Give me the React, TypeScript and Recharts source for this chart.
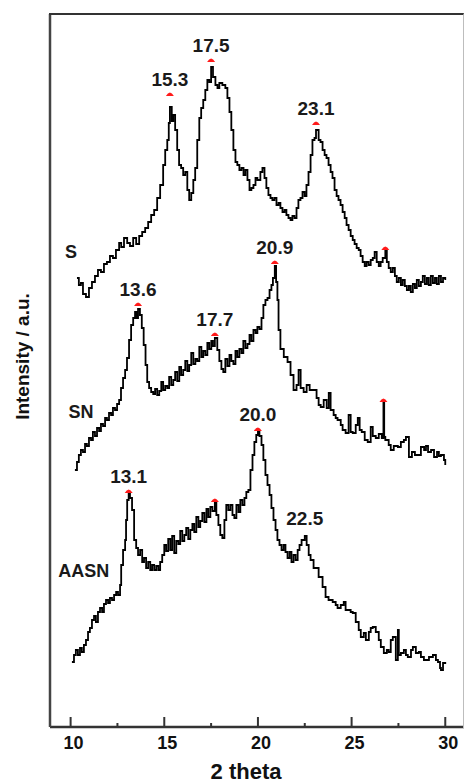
import React from "react";
import { ComposedChart, Line, XAxis, YAxis, ReferenceDot } from "recharts";

const FONT = "'Liberation Sans', Arial, Helvetica, sans-serif";

// XRD patterns, [2θ, intensity (a.u.)]
const sPattern = [
  [10.34, 449], [10.44, 442], [10.55, 444], [10.66, 433], [10.82, 430], [10.98, 439], [11.14, 445], [11.3, 451],
  [11.46, 457], [11.62, 455], [11.78, 463], [11.94, 465], [12.1, 471], [12.26, 469], [12.42, 477], [12.59, 484],
  [12.7, 480], [12.85, 489], [13.02, 484], [13.17, 481], [13.34, 489], [13.5, 483], [13.66, 491], [13.82, 495],
  [13.98, 499], [14.14, 505], [14.3, 512], [14.46, 517], [14.62, 529], [14.78, 542], [14.94, 562], [15.05, 577],
  [15.16, 587], [15.24, 604], [15.3, 620], [15.4, 606], [15.48, 612], [15.58, 597], [15.69, 577], [15.79, 562],
  [15.9, 559], [16.01, 552], [16.12, 555], [16.23, 537], [16.33, 527], [16.44, 534], [16.55, 547], [16.65, 559],
  [16.76, 587], [16.87, 609], [16.97, 619], [17.08, 627], [17.19, 637], [17.3, 647], [17.4, 645], [17.5, 660],
  [17.6, 650], [17.73, 642], [17.84, 639], [17.94, 644], [18.1, 642], [18.26, 639], [18.37, 629], [18.48, 615],
  [18.58, 597], [18.69, 577], [18.8, 565], [18.9, 562], [19.01, 557], [19.12, 559], [19.23, 552], [19.33, 557],
  [19.44, 547], [19.55, 537], [19.65, 539], [19.76, 542], [19.87, 549], [19.97, 547], [20.13, 555], [20.24, 559],
  [20.35, 549], [20.45, 539], [20.56, 532], [20.67, 529], [20.77, 527], [20.88, 529], [20.99, 522], [21.1, 524],
  [21.2, 519], [21.31, 515], [21.42, 517], [21.52, 512], [21.63, 509], [21.74, 507], [21.84, 511], [21.95, 509],
  [22.06, 519], [22.16, 527], [22.27, 529], [22.38, 535], [22.49, 531], [22.59, 542], [22.7, 555], [22.81, 572],
  [22.91, 587], [23.02, 589], [23.1, 597], [23.24, 587], [23.34, 585], [23.45, 577], [23.56, 572], [23.66, 569],
  [23.77, 562], [23.88, 555], [23.98, 549], [24.09, 537], [24.2, 531], [24.3, 527], [24.41, 522], [24.52, 515],
  [24.63, 509], [24.73, 502], [24.84, 497], [24.95, 491], [25.06, 487], [25.16, 483], [25.27, 479], [25.38, 477],
  [25.48, 471], [25.59, 465], [25.7, 461], [25.8, 465], [25.91, 462], [26.02, 467], [26.13, 469], [26.23, 475],
  [26.34, 465], [26.45, 461], [26.55, 465], [26.66, 469], [26.8, 476], [26.88, 465], [26.98, 459], [27.09, 455],
  [27.2, 459], [27.31, 451], [27.41, 445], [27.52, 449], [27.63, 442], [27.73, 447], [27.84, 441], [27.95, 437],
  [28.06, 441], [28.16, 435], [28.27, 443], [28.38, 439], [28.48, 447], [28.59, 441], [28.7, 445], [28.8, 451],
  [28.91, 443], [29.02, 449], [29.12, 442], [29.23, 451], [29.34, 444], [29.45, 449], [29.55, 443], [29.66, 451],
  [29.77, 445], [29.88, 449], [30.0, 447],
];

const snPattern = [
  [10.23, 257], [10.34, 265], [10.44, 272], [10.55, 277], [10.66, 275], [10.77, 283], [10.87, 281], [10.98, 289],
  [11.09, 287], [11.19, 295], [11.3, 291], [11.41, 299], [11.52, 296], [11.62, 303], [11.73, 301], [11.84, 309],
  [11.94, 307], [12.05, 314], [12.16, 312], [12.26, 319], [12.37, 317], [12.48, 323], [12.59, 327], [12.69, 339],
  [12.8, 349], [12.91, 357], [13.01, 369], [13.12, 387], [13.23, 402], [13.34, 409], [13.44, 415], [13.52, 409],
  [13.6, 418], [13.7, 412], [13.8, 399], [13.9, 382], [14.0, 362], [14.09, 345], [14.19, 339], [14.3, 335],
  [14.41, 333], [14.51, 338], [14.62, 332], [14.73, 336], [14.84, 345], [14.94, 337], [15.05, 341], [15.16, 339],
  [15.26, 350], [15.37, 342], [15.48, 347], [15.58, 355], [15.69, 346], [15.8, 360], [15.9, 352], [16.01, 357],
  [16.12, 366], [16.23, 356], [16.33, 362], [16.44, 374], [16.55, 363], [16.66, 368], [16.76, 366], [16.87, 380],
  [16.98, 370], [17.08, 376], [17.19, 372], [17.3, 384], [17.4, 378], [17.51, 386], [17.6, 381], [17.7, 389],
  [17.83, 377], [17.94, 366], [18.05, 358], [18.15, 355], [18.26, 368], [18.37, 361], [18.48, 372], [18.58, 366],
  [18.69, 363], [18.8, 376], [18.9, 370], [19.01, 378], [19.12, 374], [19.22, 386], [19.33, 379], [19.44, 383],
  [19.55, 392], [19.65, 386], [19.76, 397], [19.87, 394], [19.97, 400], [20.08, 398], [20.19, 409], [20.29, 422],
  [20.4, 427], [20.51, 429], [20.62, 437], [20.72, 442], [20.8, 449], [20.9, 461], [20.97, 445], [21.04, 427],
  [21.1, 397], [21.2, 378], [21.38, 370], [21.58, 365], [21.74, 352], [21.9, 337], [22.06, 342], [22.17, 357],
  [22.28, 339], [22.44, 335], [22.6, 342], [22.76, 337], [22.97, 337], [23.13, 329], [23.24, 322], [23.35, 320],
  [23.51, 327], [23.67, 319], [23.78, 334], [23.88, 317], [24.04, 312], [24.15, 309], [24.25, 307], [24.42, 302],
  [24.52, 297], [24.68, 294], [24.84, 312], [24.95, 295], [25.06, 294], [25.22, 302], [25.33, 309], [25.43, 297],
  [25.54, 295], [25.7, 287], [25.86, 285], [26.02, 300], [26.13, 291], [26.29, 289], [26.45, 293], [26.61, 289],
  [26.7, 324], [26.74, 290], [26.8, 287], [26.98, 282], [27.09, 277], [27.25, 281], [27.47, 280], [27.63, 285],
  [27.79, 287], [27.9, 290], [28.06, 270], [28.22, 275], [28.38, 272], [28.54, 272], [28.7, 280], [28.87, 277],
  [28.97, 281], [29.08, 275], [29.24, 277], [29.4, 270], [29.56, 275], [29.66, 271], [29.77, 272], [29.93, 267],
  [30.0, 262],
];

const aasnPattern = [
  [10.07, 65], [10.18, 72], [10.28, 77], [10.39, 72], [10.5, 79], [10.6, 75], [10.71, 82], [10.82, 87],
  [10.93, 95], [11.03, 99], [11.14, 107], [11.25, 111], [11.35, 105], [11.46, 115], [11.57, 119], [11.68, 115],
  [11.78, 123], [11.89, 127], [12.0, 124], [12.1, 129], [12.21, 127], [12.32, 132], [12.43, 135], [12.53, 132],
  [12.64, 142], [12.7, 162], [12.8, 177], [12.91, 187], [12.96, 207], [13.02, 227], [13.1, 233], [13.17, 229],
  [13.28, 217], [13.39, 187], [13.5, 179], [13.6, 172], [13.71, 177], [13.82, 165], [13.92, 169], [14.03, 159],
  [14.14, 165], [14.25, 157], [14.35, 162], [14.46, 157], [14.57, 161], [14.68, 157], [14.78, 165], [14.89, 172],
  [15.0, 182], [15.1, 176], [15.21, 188], [15.32, 177], [15.42, 191], [15.53, 174], [15.64, 186], [15.75, 183],
  [15.85, 196], [15.96, 186], [16.07, 192], [16.17, 199], [16.28, 188], [16.39, 197], [16.5, 203], [16.6, 195],
  [16.71, 210], [16.82, 200], [16.92, 206], [17.03, 214], [17.14, 205], [17.25, 218], [17.35, 210], [17.46, 220],
  [17.57, 216], [17.7, 224], [17.78, 212], [17.89, 202], [17.99, 192], [18.1, 189], [18.21, 207], [18.31, 222],
  [18.42, 217], [18.53, 222], [18.64, 212], [18.74, 209], [18.85, 222], [18.96, 215], [19.06, 227], [19.17, 222],
  [19.28, 229], [19.38, 235], [19.49, 237], [19.6, 257], [19.71, 272], [19.81, 285], [19.91, 292], [20.0, 295],
  [20.08, 291], [20.19, 282], [20.29, 267], [20.4, 252], [20.51, 242], [20.62, 232], [20.72, 219], [20.83, 207],
  [20.94, 197], [21.04, 187], [21.15, 182], [21.26, 177], [21.37, 182], [21.47, 175], [21.58, 169], [21.69, 175],
  [21.79, 165], [21.9, 172], [22.01, 167], [22.12, 177], [22.22, 182], [22.33, 187], [22.5, 191], [22.6, 182],
  [22.71, 172], [22.81, 167], [22.97, 159], [23.24, 150], [23.45, 140], [23.61, 130], [23.77, 127], [23.99, 125],
  [24.15, 122], [24.25, 119], [24.42, 122], [24.58, 125], [24.68, 117], [24.79, 117], [24.95, 115], [25.06, 114],
  [25.22, 105], [25.38, 97], [25.49, 90], [25.65, 94], [25.76, 87], [25.92, 95], [26.02, 99], [26.13, 100],
  [26.29, 95], [26.45, 87], [26.56, 80], [26.72, 74], [26.88, 77], [26.98, 75], [27.09, 87], [27.2, 90],
  [27.36, 67], [27.47, 97], [27.52, 72], [27.63, 74], [27.79, 77], [27.9, 72], [28.0, 70], [28.17, 77],
  [28.27, 80], [28.43, 74], [28.59, 75], [28.7, 70], [28.86, 67], [28.97, 67], [29.13, 70], [29.34, 72],
  [29.5, 67], [29.61, 65], [29.72, 59], [29.77, 57], [29.88, 64], [30.0, 65],
];

// peak markers (red) and their 2θ labels
const peaks = [
  { theta: 15.3, intensity: 633, label: "15.3", marked: true },
  { theta: 17.5, intensity: 667, label: "17.5", marked: true },
  { theta: 23.1, intensity: 604, label: "23.1", marked: true },
  { theta: 26.8, intensity: 479, label: "", marked: true },
  { theta: 13.6, intensity: 423, label: "13.6", marked: true },
  { theta: 17.7, intensity: 393, label: "17.7", marked: true },
  { theta: 20.9, intensity: 465, label: "20.9", marked: true },
  { theta: 26.7, intensity: 327, label: "", marked: true },
  { theta: 13.1, intensity: 236, label: "13.1", marked: true },
  { theta: 17.7, intensity: 227, label: "", marked: true },
  { theta: 20.0, intensity: 298, label: "20.0", marked: true },
  { theta: 22.5, intensity: 194, label: "22.5", marked: false },
];

const sampleNames = [
  { name: "S", theta: 10.02, intensity: 469 },
  { name: "SN", theta: 10.55, intensity: 309 },
  { name: "AASN", theta: 10.7, intensity: 150 },
];

const thetaTicks = [10, 12.5, 15, 17.5, 20, 22.5, 25, 27.5, 30];

const DOMAIN_X: [number, number] = [8.9, 31];
const DOMAIN_Y: [number, number] = [0, 713];

const W = 465;
const H = 784;
const MARGIN = { top: 14, right: 1, bottom: 0, left: 49 };
const X_AXIS_H = 57;

const toPoints = (pairs: number[][]) => pairs.map(([theta, intensity]) => ({ theta, intensity }));

function ThetaTick(props: any) {
  const { x, y, payload } = props;
  const major = payload.value % 5 === 0;
  return (
    <g>
      <line x1={x} x2={x} y1={y} y2={y - (major ? 10 : 4)} stroke="#333" strokeWidth={2} />
      {major && (
        <text x={x + 3} y={y + 22} textAnchor="middle" fontFamily={FONT} fontWeight="bold" fontSize={18} fill="#111">
          {payload.value}
        </text>
      )}
    </g>
  );
}

function PeakMark(props: any) {
  const { cx, cy, label, marked } = props;
  return (
    <g>
      {marked && <path d={`M${cx - 4},${cy + 2} Q${cx},${cy - 5} ${cx + 4},${cy + 2} Z`} fill="#ff1a1a" />}
      {label && (
        <text x={cx} y={cy - 8} textAnchor="middle" fontFamily={FONT} fontWeight="bold" fontSize={19} fill="#1a1a1a">
          {label}
        </text>
      )}
    </g>
  );
}

function SampleName(props: any) {
  const { cx, cy, name } = props;
  return (
    <text x={cx} y={cy} textAnchor="middle" fontFamily={FONT} fontWeight="bold" fontSize={18} fill="#1a1a1a">
      {name}
    </text>
  );
}

export default function App() {
  // top and right edges of the plot box
  const frame: React.CSSProperties = {
    position: "absolute",
    left: MARGIN.left,
    top: MARGIN.top - 1,
    width: W - MARGIN.left - MARGIN.right - 1,
    height: H - MARGIN.top - X_AXIS_H,
    borderTop: "2.5px solid #333",
    borderRight: "1px solid #bdbdbd",
    pointerEvents: "none",
  };

  return (
    <div style={{ position: "absolute", left: 0, top: 0, width: W, height: H, background: "#fff" }}>
      <ComposedChart width={W} height={H} margin={MARGIN}>
        <XAxis
          type="number"
          dataKey="theta"
          domain={DOMAIN_X}
          allowDataOverflow
          ticks={thetaTicks}
          interval={0}
          tick={<ThetaTick />}
          tickLine={false}
          tickSize={0}
          tickMargin={0}
          height={X_AXIS_H}
          axisLine={{ stroke: "#333", strokeWidth: 2.5 }}
          label={{
            value: "2 theta",
            position: "insideBottom",
            offset: 5,
            dx: -11,
            fontFamily: FONT,
            fontWeight: "bold",
            fontSize: 22,
            fill: "#111",
          }}
        />
        <YAxis
          type="number"
          dataKey="intensity"
          domain={DOMAIN_Y}
          allowDataOverflow
          width={1}
          tick={false}
          tickLine={false}
          axisLine={{ stroke: "#444", strokeWidth: 2.5 }}
          label={{
            value: "Intensity / a.u.",
            angle: -90,
            position: "center",
            dx: -27,
            dy: -14,
            fontFamily: FONT,
            fontWeight: "bold",
            fontSize: 19,
            fill: "#111",
          }}
        />

        <Line data={toPoints(sPattern)} dataKey="intensity" type="stepAfter" stroke="#000" strokeWidth={1.8} dot={false} isAnimationActive={false} />
        <Line data={toPoints(snPattern)} dataKey="intensity" type="stepAfter" stroke="#000" strokeWidth={1.8} dot={false} isAnimationActive={false} />
        <Line data={toPoints(aasnPattern)} dataKey="intensity" type="stepAfter" stroke="#000" strokeWidth={1.8} dot={false} isAnimationActive={false} />

        {peaks.map((p, i) => (
          <ReferenceDot
            key={`peak-${i}`}
            x={p.theta}
            y={p.intensity}
            r={4}
            shape={(props: any) => <PeakMark cx={props.cx} cy={props.cy} label={p.label} marked={p.marked} />}
          />
        ))}
        {sampleNames.map((s) => (
          <ReferenceDot
            key={s.name}
            x={s.theta}
            y={s.intensity}
            r={1}
            shape={(props: any) => <SampleName cx={props.cx} cy={props.cy} name={s.name} />}
          />
        ))}
      </ComposedChart>
      <div style={frame} />
    </div>
  );
}
